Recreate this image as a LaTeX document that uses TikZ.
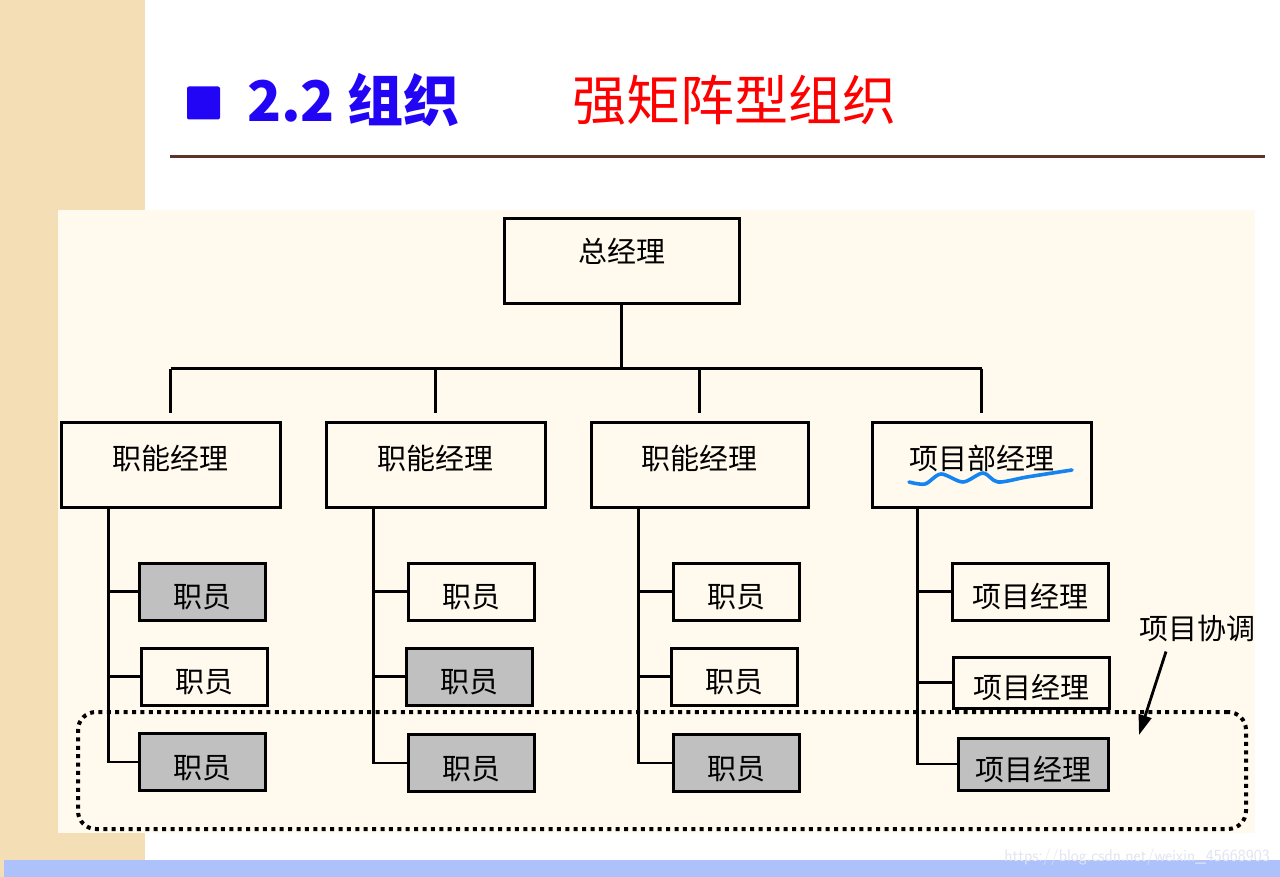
\documentclass[tikz,border=0pt]{standalone}
\usepackage{fontspec}
\newfontfamily\cjk{Noto Sans CJK SC}
\usepackage{xcolor}
\usetikzlibrary{
    arrows.meta,
    positioning,
    calc
}

\definecolor{stripbg}{RGB}{243,222,182}
\definecolor{panelbg}{RGB}{255,249,238}
\definecolor{titleblue}{RGB}{35,5,245}
\definecolor{rulebrown}{RGB}{92,52,40}
\definecolor{boxgray}{RGB}{192,192,192}
\definecolor{barblue}{RGB}{173,194,250}
\definecolor{wavyblue}{RGB}{22,132,240}

\begin{document}
\begin{tikzpicture}[
        x=1pt, y=-1pt,
        box/.style={
            draw,
            line width=3pt,
            fill=panelbg,
            inner sep=0pt,
            font=\cjk\fontsize{29}{32}\selectfont
        },
        mgr/.style={
            box,
            minimum width=219pt,
            minimum height=85pt,
            text depth=14pt
        },
        staff/.style={
            box,
            minimum width=126pt,
            minimum height=57pt,
            text height=36pt,
            text depth=4pt
        },
        staffgray/.style={
            staff,
            fill=boxgray
        },
        link/.style={
            line width=2.8pt
        }
    ]

    % page background
    \useasboundingbox (0,0) rectangle (1280,877);
    \fill[white] (0,0) rectangle (1280,877);
    \fill[stripbg] (0,0) rectangle (145,877);
    \fill[barblue] (4,860) rectangle (1280,877);
    \fill[panelbg] (58,210) rectangle (1255,833);

    % title
    \node[fill=titleblue, minimum size=33pt, inner sep=0pt, rounded corners=2pt]
        (bullet) at (203.5,103) {};
    \node[anchor=west, inner sep=0pt, text=titleblue,
          font=\cjk\bfseries\fontsize{56}{60}\selectfont]
        (title) at (247,100) {2.2 组织};
    \node[anchor=west, inner sep=0pt, text=red,
          font=\cjk\fontsize{54}{58}\selectfont]
        (subtitle) at (572,100) {强矩阵型组织};
    \draw[rulebrown, line width=3pt] (170,157) -- (1265,157);

    % managers
    \node[box, minimum width=235pt, minimum height=85pt, text depth=22pt]
        (gm) at (621.5,261.5) {总经理};

    \node[mgr] (f1) at (170.5,464.5) {职能经理};
    \node[mgr] (f2) at (435.5,464.5) {职能经理};
    \node[mgr, minimum width=217pt] (f3) at (699.5,464.5) {职能经理};
    \node[mgr] (pm) at (981.5,464.5) {项目部经理};

    % staff
    \node[staffgray] (s11) at (202,591.5) {职员};
    \node[staff]     (s12) at (204,676.5) {职员};
    \node[staffgray] (s13) at (202,762)   {职员};

    \node[staff]     (s21) at (471,591.5) {职员};
    \node[staffgray] (s22) at (469,676.5) {职员};
    \node[staffgray] (s23) at (471,763)   {职员};

    \node[staff]     (s31) at (736,591.5) {职员};
    \node[staff]     (s32) at (734,676.5) {职员};
    \node[staffgray] (s33) at (736,763)   {职员};

    \node[staff, minimum width=156pt] (p1) at (1030,591.5) {项目经理};
    \node[staff, minimum width=156pt, minimum height=51pt]
        (p2) at (1031,682.5) {项目经理};
    \node[staffgray, minimum width=150pt, minimum height=52pt]
        (p3) at (1033,764) {项目经理};

    % tree links
    \coordinate (bus) at ($(gm.south)+(0,63)$);
    \draw[link] (gm.south) -- (bus);
    \draw[link] (f1.north |- bus) -- (pm.north |- bus);
    \foreach \n in {f1,f2,f3,pm}
        \draw[link] (\n.north |- bus) -- ($(\n.north)+(0,-8)$);

    \foreach \f in {1,2,3} {
        \coordinate (t\f) at ($(f\f.south west)+(49,0)$);
        \draw[link] (t\f) |- (s\f3.west);
        \draw[link] (t\f |- s\f1.west) -- (s\f1.west);
        \draw[link] (t\f |- s\f2.west) -- (s\f2.west);
    }
    \coordinate (tp) at ($(pm.south west)+(47,0)$);
    \draw[link] (tp) |- (p3.west);
    \draw[link] (tp |- p1.west) -- (p1.west);
    \draw[link] (tp |- p2.west) -- (p2.west);

    % hand-drawn mark
    \draw[wavyblue, line width=3.6pt, line cap=round]
        plot[smooth] coordinates {(909,482) (925,484) (941,474) (963,482)
            (983,473) (998,482) (1027,477) (1072,470)};

    % coordination frame
    \node[draw, line width=4pt, dash pattern=on 4pt off 4.4pt,
          rounded corners=18pt, minimum width=1168pt, minimum height=117pt]
        (coord) at (662,770.5) {};
    \node[inner sep=0pt, font=\cjk\fontsize{29}{32}\selectfont]
        (coordlabel) at (1197,628) {项目协调};
    \coordinate (arrowtip) at (1139,735);
    \draw[-{Triangle[length=20pt,width=13pt]}, line width=2.8pt]
        ([xshift=-31pt,yshift=-10pt]coordlabel.south) -- (arrowtip);

    % watermark
    \node[anchor=east, inner sep=0pt, text={rgb,255:red,226;green,229;blue,240},
          font=\fontsize{17}{18}\selectfont\sffamily]
        (mark) at (1270,857) {https://blog.csdn.net/weixin\_45668903};

\end{tikzpicture}
\end{document}
